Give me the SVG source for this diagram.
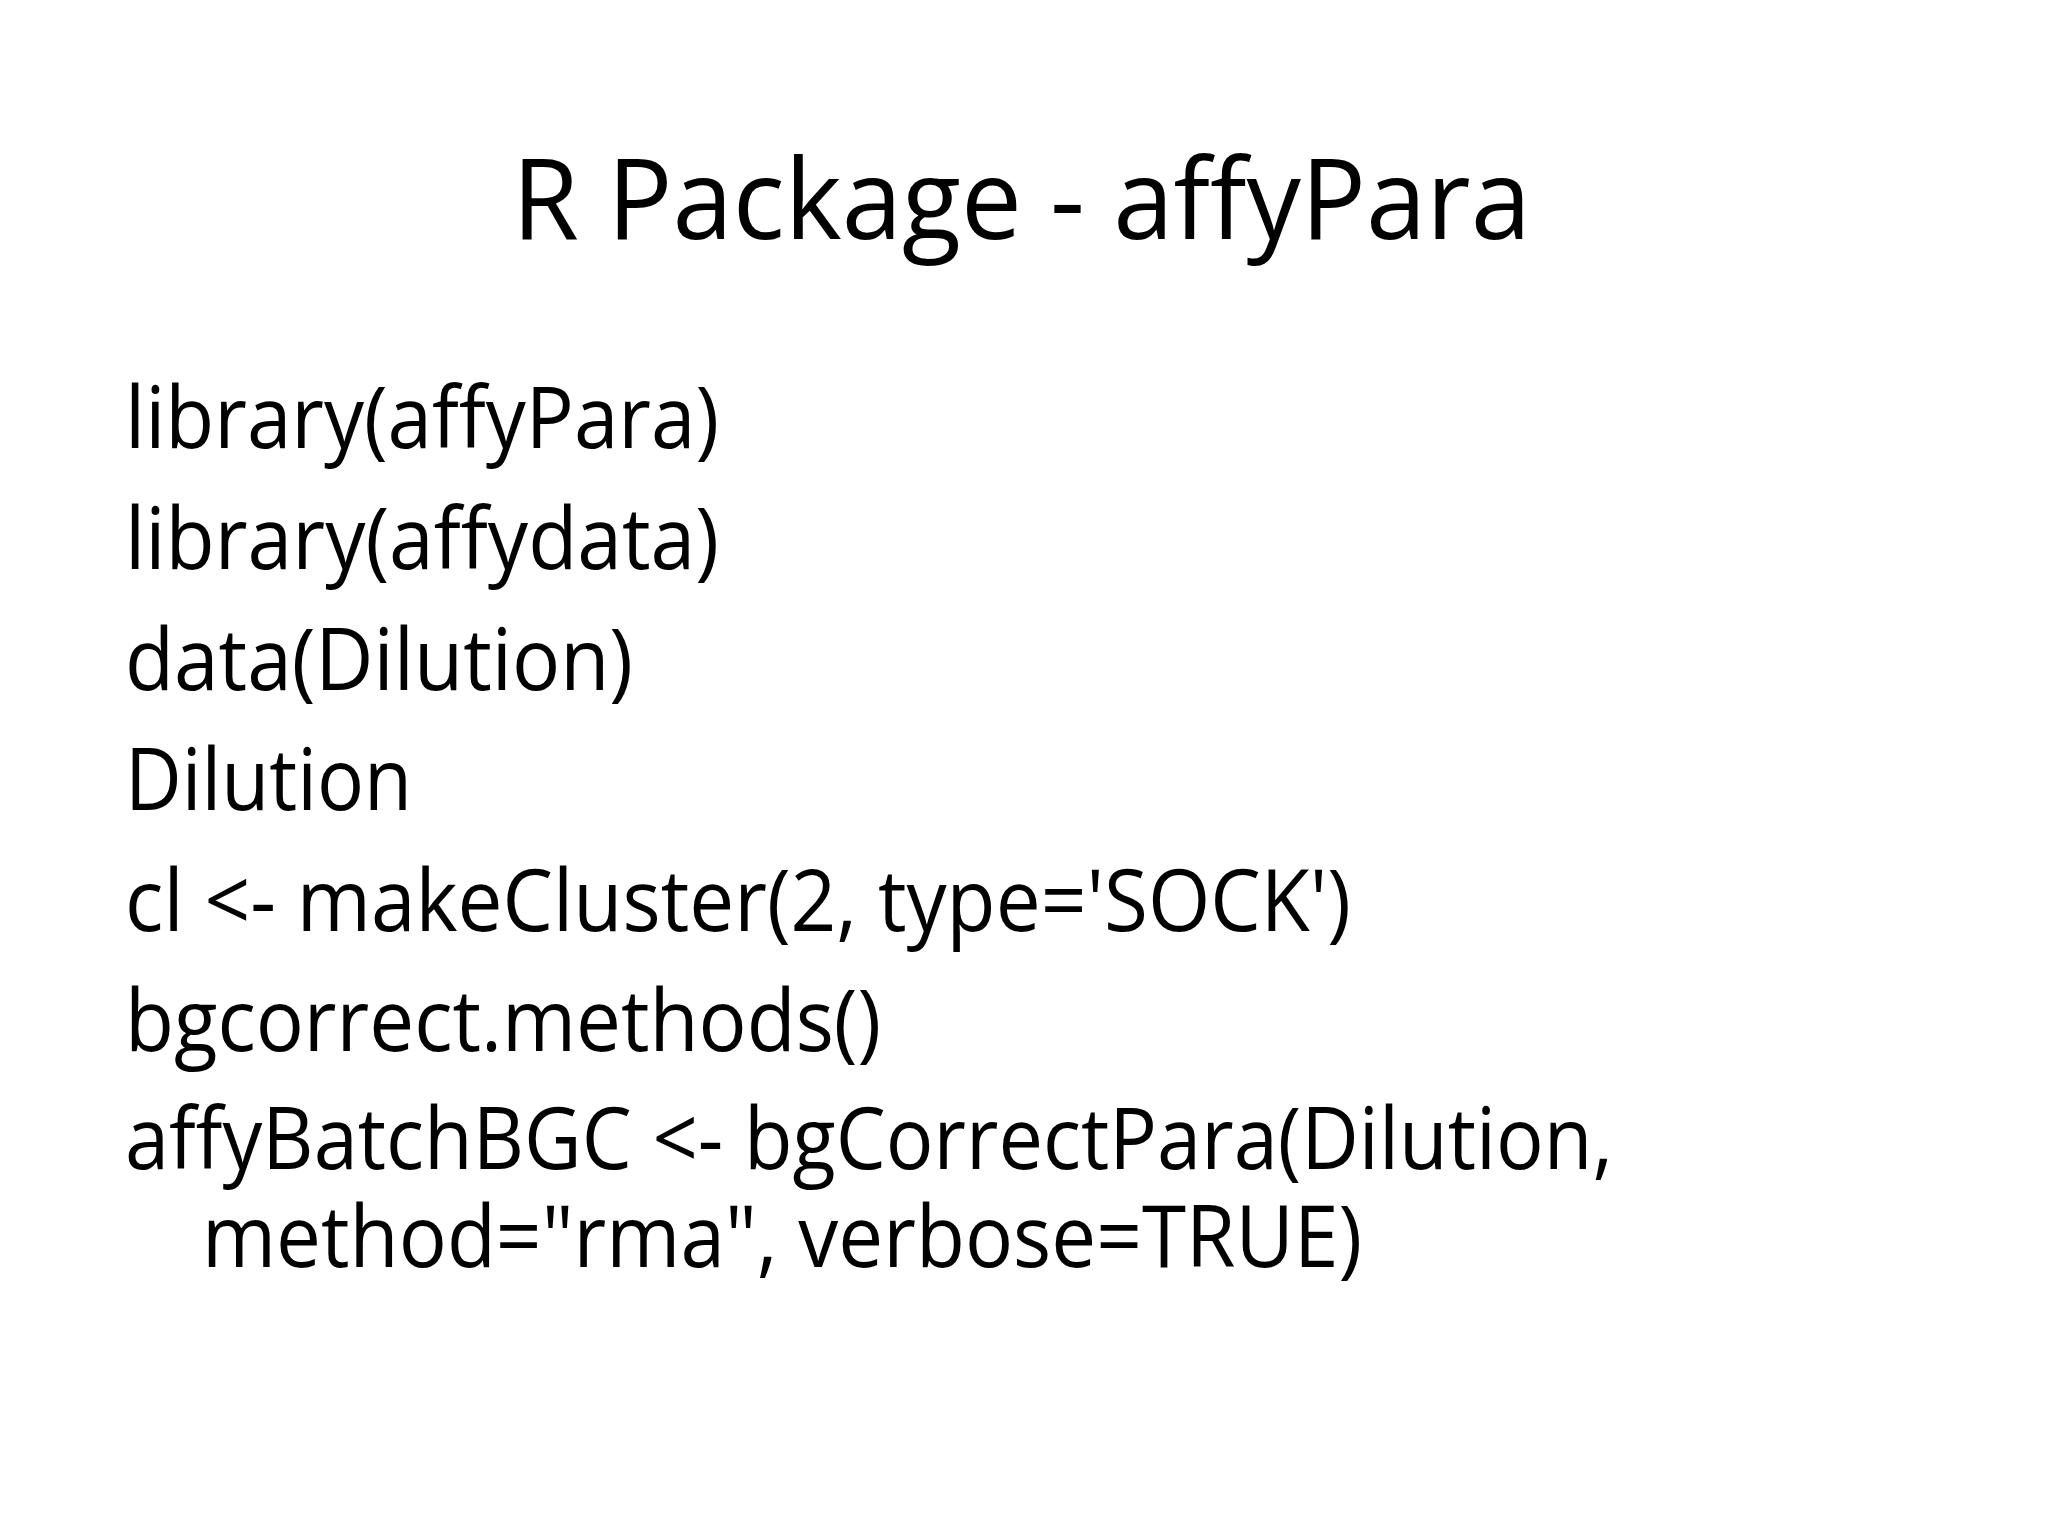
<svg xmlns="http://www.w3.org/2000/svg" width="2048" height="1536" viewBox="0 0 2048 1536">
<style>
.t{font-family:"Open Sans","Noto Sans",sans-serif;fill:#000}
.b{font-size:86px}
</style>
<rect width="2048" height="1536" fill="#fff"/>
<text class="t" x="512" y="239" font-size="112" textLength="1019" lengthAdjust="spacingAndGlyphs">R Package - affyPara</text>
<g class="t b">
<text x="125" y="448" textLength="594" lengthAdjust="spacingAndGlyphs">library(affyPara)</text>
<text x="125" y="569" textLength="594" lengthAdjust="spacingAndGlyphs">library(affydata)</text>
<text x="125" y="690" textLength="508" lengthAdjust="spacingAndGlyphs">data(Dilution)</text>
<text x="125" y="810" textLength="287" lengthAdjust="spacingAndGlyphs">Dilution</text>
<text x="125" y="931" textLength="1226" lengthAdjust="spacingAndGlyphs">cl &lt;- makeCluster(2, type='SOCK')</text>
<text x="125" y="1051" textLength="756" lengthAdjust="spacingAndGlyphs">bgcorrect.methods()</text>
<text x="125" y="1169" textLength="1488" lengthAdjust="spacingAndGlyphs">affyBatchBGC &lt;- bgCorrectPara(Dilution,</text>
<text x="202" y="1267" textLength="1160" lengthAdjust="spacingAndGlyphs">method="rma", verbose=TRUE)</text>
</g>
</svg>
